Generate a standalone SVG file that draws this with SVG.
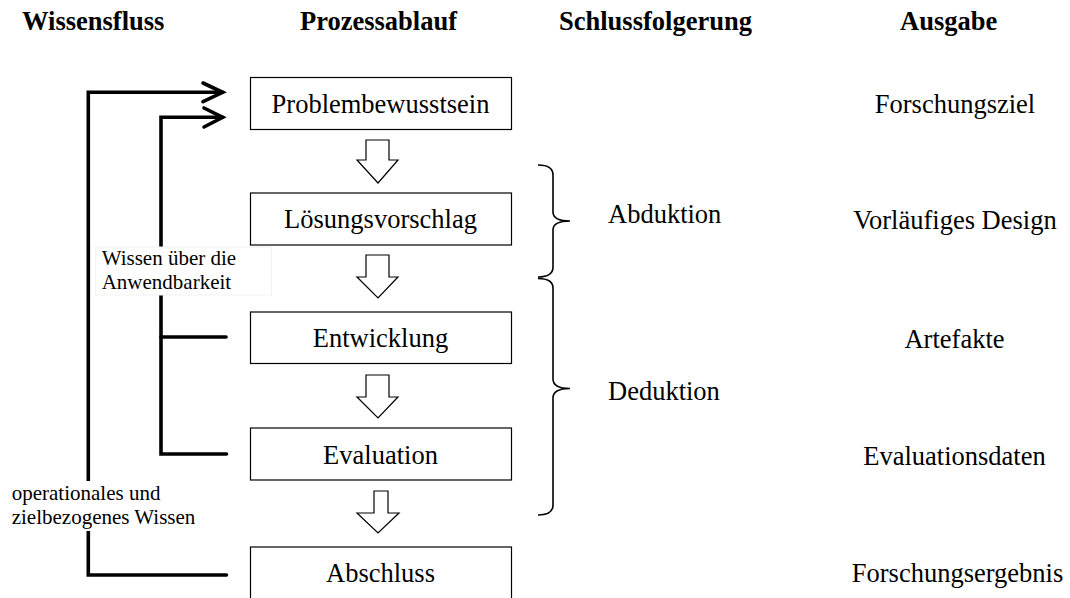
<svg xmlns="http://www.w3.org/2000/svg" width="1070" height="598" viewBox="0 0 1070 598">
  <style>
    text { font-family: "Liberation Serif", "Times New Roman", serif; fill: #000; }
    .hdr { font-size: 26.5px; font-weight: bold; }
    .t { font-size: 26.5px; }
    .c { text-anchor: middle; }
    .lbl { font-size: 21px; }
    .box { fill: #fff; stroke: #000; stroke-width: 1.2; }
    .harrow { fill: #fff; stroke: #000; stroke-width: 1.2; stroke-linejoin: miter; }
    .flow { fill: none; stroke: #000; stroke-width: 3.6; stroke-linejoin: miter; stroke-linecap: round; }
    .brace { fill: none; stroke: #000; stroke-width: 1.6; }
    .lblbg { fill: #fff; stroke: #f2f2f2; stroke-width: 1; }
  </style>
  <rect x="0" y="0" width="1070" height="598" fill="#fff"/>

  <g id="headers">
    <text class="hdr" x="22" y="30">Wissensfluss</text>
    <text class="hdr" x="300" y="30">Prozessablauf</text>
    <text class="hdr" x="559" y="30">Schlussfolgerung</text>
    <text class="hdr" x="900" y="30">Ausgabe</text>
  </g>

  <g id="connectors">
    <path class="flow" d="M222.7,92.3 L88.3,92.3 L88.3,575 L226.5,575"/>
    <path class="flow" d="M203,83 L222.7,92.3 L203,101.7"/>
    <path class="flow" d="M222.7,117.3 L161,117.3 L161,454 L226.5,454"/>
    <path class="flow" d="M204,108 L222.7,117.3 L204,127"/>
    <path class="flow" d="M161,337 L226,337"/>
    <polygon class="harrow" points="366,140 389,140 389,160 398,160 378,183 357,160 366,160"/>
    <polygon class="harrow" points="366,255 389,255 389,277 398,277 378,298 357,277 366,277"/>
    <polygon class="harrow" points="366,375 389,375 389,397 398,397 378,418 357,397 366,397"/>
    <polygon class="harrow" points="374,491 388,491 388,513 399,513 378,533 357,513 374,513"/>
  </g>

  <g id="node-problembewusstsein">
    <rect class="box" x="250.5" y="77.5" width="261" height="52"/>
    <text class="t c" x="380.5" y="112.5">Problembewusstsein</text>
  </g>
  <g id="node-loesungsvorschlag">
    <rect class="box" x="250.5" y="193" width="261" height="52"/>
    <text class="t c" x="380.5" y="228">Lösungsvorschlag</text>
  </g>
  <g id="node-entwicklung">
    <rect class="box" x="250.5" y="312" width="261" height="51.5"/>
    <text class="t c" x="380.5" y="347">Entwicklung</text>
  </g>
  <g id="node-evaluation">
    <rect class="box" x="250.5" y="428" width="261" height="52"/>
    <text class="t c" x="380.5" y="463.5">Evaluation</text>
  </g>
  <g id="node-abschluss">
    <rect class="box" x="250.5" y="547" width="261" height="54"/>
    <text class="t c" x="380.5" y="582">Abschluss</text>
  </g>

  <g id="label-anwendbarkeit">
    <rect class="lblbg" x="95.5" y="247" width="176" height="48"/>
    <text class="lbl" x="101.7" y="265">Wissen über die</text>
    <text class="lbl" x="101.7" y="289.3">Anwendbarkeit</text>
  </g>
  <g id="label-operational">
    <rect fill="#fff" x="8" y="481" width="192" height="50"/>
    <text class="lbl" x="11.7" y="500">operationales und</text>
    <text class="lbl" x="11.7" y="524.3">zielbezogenes Wissen</text>
  </g>

  <g id="brace-abduktion">
    <path class="brace" d="M538,165 Q553,165 553,175 L553,212 Q553,221 570,221 Q553,221 553,230 L553,267 Q553,277 538,277"/>
    <text class="t" x="608" y="223">Abduktion</text>
  </g>
  <g id="brace-deduktion">
    <path class="brace" d="M538,278.5 Q553,278.5 553,288 L553,379 Q553,388.5 570,388.5 Q553,388.5 553,398 L553,505 Q553,515 538,515"/>
    <text class="t" x="608" y="400">Deduktion</text>
  </g>

  <g id="outputs">
    <text class="t c" x="955" y="113">Forschungsziel</text>
    <text class="t c" x="955" y="228.5">Vorläufiges Design</text>
    <text class="t c" x="954.5" y="347.5">Artefakte</text>
    <text class="t c" x="954.5" y="465">Evaluationsdaten</text>
    <text class="t c" x="957.5" y="581.5">Forschungsergebnis</text>
  </g>
</svg>
